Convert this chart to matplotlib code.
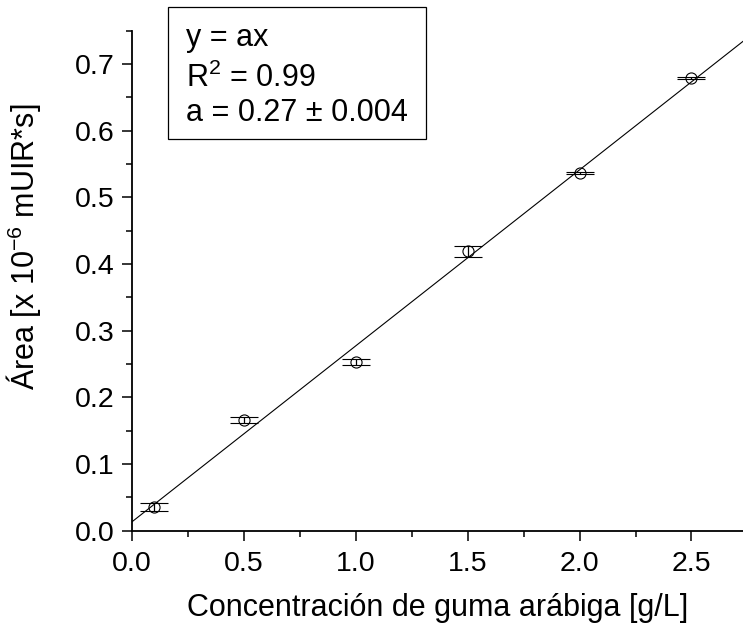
import numpy as np
import matplotlib
matplotlib.use("Agg")
import matplotlib.pyplot as plt
from matplotlib.patches import Rectangle
from matplotlib.ticker import MultipleLocator

plt.rcParams['font.family'] = ['Liberation Sans', 'DejaVu Sans']
plt.rcParams['mathtext.fontset'] = 'custom'
plt.rcParams['mathtext.rm'] = 'Liberation Sans'
plt.rcParams['mathtext.it'] = 'Liberation Sans:italic'

# data
conc = [0.1, 0.5, 1.0, 1.5, 2.0, 2.5]            # g/L
area = [0.035, 0.166, 0.253, 0.419, 0.537, 0.679]  # x 10^-6 mUIR*s
area_err = [0.006, 0.004, 0.005, 0.008, 0.0015, 0.0015]

# fitted line as drawn
fit_slope = 0.264
fit_icpt = 0.013
fit_text = ["y = ax", "R$^2$ = 0.99", "a = 0.27 \u00b1 0.004"]

W, H = 743, 628
fig = plt.figure(figsize=(W / 100, H / 100), dpi=100)
ax = fig.add_axes([131.7 / W, 1 - 530.7 / H, (W - 131.7) / W, 500.2 / H])

ax.set_xlim(0, 2.73)
ax.set_ylim(0, 0.75)

xl = np.array(ax.get_xlim())
ax.plot(xl, fit_icpt + fit_slope * xl, color='black', lw=0.8, zorder=2)

ax.errorbar(conc, area, yerr=area_err, fmt='o', mfc='none', mec='black',
            mew=0.8, ms=8, ecolor='black', elinewidth=0.9, capsize=10,
            capthick=1.2, zorder=3)

for s in ['top', 'right']:
    ax.spines[s].set_visible(False)
for s in ['left', 'bottom']:
    ax.spines[s].set_linewidth(1.3)

ax.xaxis.set_major_locator(MultipleLocator(0.5))
ax.xaxis.set_minor_locator(MultipleLocator(0.25))
ax.yaxis.set_major_locator(MultipleLocator(0.1))
ax.yaxis.set_minor_locator(MultipleLocator(0.05))
ax.xaxis.set_major_formatter(plt.FormatStrFormatter('%.1f'))
ax.yaxis.set_major_formatter(plt.FormatStrFormatter('%.1f'))
ax.tick_params(which='major', direction='out', length=7.5, width=1.1,
               labelsize=20.5)
ax.tick_params(axis='x', which='major', pad=7)
ax.tick_params(axis='y', which='major', pad=5)
ax.tick_params(which='minor', direction='out', length=4.5, width=1.1)

ax.set_xlabel('Concentración de guma arábiga [g/L]', fontsize=22)
ax.set_ylabel('Área [x 10$^{-6}$ mUIR*s]', fontsize=22)
ax.xaxis.set_label_coords(0.5, -0.125)
ax.yaxis.set_label_coords(-0.145, 0.567)

# annotation box
fig.patches.append(Rectangle((167.5 / W, 1 - 139 / H), 258.5 / W, 132 / H,
                             transform=fig.transFigure, fill=False,
                             edgecolor='black', lw=0.9))
for t, yb in zip(fit_text, [46, 87, 121]):
    fig.text(186 / W, 1 - yb / H, t, fontsize=22, ha='left', va='baseline')

fig.savefig('out.png', dpi=100)
